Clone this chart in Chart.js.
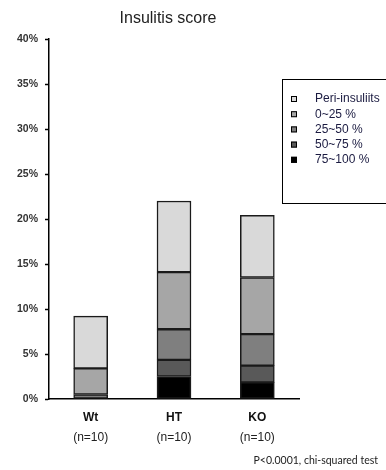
<!DOCTYPE html>
<html>
<head>
<meta charset="utf-8">
<script src="https://cdn.jsdelivr.net/npm/chart.js@4.4.0/dist/chart.umd.min.js"></script>
<style>
  html, body { margin: 0; padding: 0; background: #fff; }
  #wrap { width: 386px; height: 470px; position: relative; }
</style>
</head>
<body>
<div id="wrap"><canvas id="insulitisChart" width="386" height="470"></canvas></div>
<script>
// ---- data ----
const groups = ['Wt', 'HT', 'KO'];
const groupN = ['(n=10)', '(n=10)', '(n=10)'];
const scoreLabels = ['75~100 %', '50~75 %', '25~50 %', '0~25 %', 'Peri-insuliits'];
const scoreColors = ['#000000', '#595959', '#7f7f7f', '#a6a6a6', '#d9d9d9'];
// percent of islets in each class, bottom segment first
const score75to100 = [0, 2.5, 1.85];
const score50to75 = [0, 1.85, 1.85];
const score25to50 = [0.5, 3.4, 3.5];
const score0to25 = [2.9, 6.35, 6.3];
const scorePeri = [5.8, 7.9, 6.9];
const yTicks = [0, 5, 10, 15, 20, 25, 30, 35, 40];
const footnote = 'P<0.0001, chi-squared test';

const seriesValues = [score75to100, score50to75, score25to50, score0to25, scorePeri];

// title, n labels, footnote and boxed legend
const extrasPlugin = {
    id: 'extras',
    afterDraw(chart) {
        const ctx = chart.ctx;
        const xs = chart.scales.x;
        ctx.save();
        ctx.fillStyle = '#222';
        ctx.font = '16px "Liberation Sans", Arial, sans-serif';
        ctx.textAlign = 'center';
        ctx.textBaseline = 'middle';
        ctx.fillText('Insulitis score', 168, 19);

        ctx.font = '12px "Liberation Sans", Arial, sans-serif';
        groupN.forEach((n, i) => {
            ctx.fillText(n, xs.getPixelForValue(i), 438);
        });

        ctx.font = '10.5px Lato, "Open Sans", sans-serif';
        ctx.textAlign = 'right';
        ctx.fillText(footnote, 378, 461);

        // legend box
        ctx.strokeStyle = '#000';
        ctx.lineWidth = 1;
        ctx.strokeRect(282.5, 79.5, 120, 124);
        ctx.textAlign = 'left';
        ctx.font = '12px "Liberation Sans", Arial, sans-serif';
        const ds = chart.data.datasets.slice().reverse();
        ds.forEach((d, i) => {
            const y = 99 + i * 15.2;
            ctx.fillStyle = d.backgroundColor;
            ctx.fillRect(291, y - 3, 6, 6);
            ctx.strokeRect(291.5, y - 2.5, 5, 5);
            ctx.fillStyle = '#1a1a40';
            ctx.fillText(d.label, 315, y);
        });
        ctx.restore();
    }
};

const ctx = document.getElementById('insulitisChart').getContext('2d');
new Chart(ctx, {
    type: 'bar',
    data: {
        labels: groups,
        datasets: seriesValues.map((vals, i) => ({
            label: scoreLabels[i],
            data: vals,
            backgroundColor: scoreColors[i],
            borderColor: '#1a1a1a',
            borderWidth: 1.5,
            borderSkipped: false,
            barThickness: 34
        }))
    },
    options: {
        responsive: false,
        animation: false,
        layout: { padding: { top: 39, right: 87, bottom: 0, left: 0 } },
        plugins: {
            legend: { display: false },
            tooltip: { enabled: false }
        },
        scales: {
            x: {
                stacked: true,
                grid: { display: false },
                border: { display: true, color: '#000', width: 1.5 },
                ticks: {
                    color: '#111',
                    font: { family: '"Liberation Sans", Arial, sans-serif', size: 12, weight: 'bold' },
                    padding: 3
                },
                afterFit: s => { s.height = 71; }
            },
            y: {
                stacked: true,
                min: 0,
                max: 40,
                afterBuildTicks: s => { s.ticks = yTicks.map(v => ({ value: v })); },
                grid: { display: true, drawOnChartArea: false, drawTicks: true, tickLength: 4, color: '#000', tickWidth: 1.5 },
                border: { display: true, color: '#000', width: 1.5 },
                ticks: {
                    color: '#333',
                    font: { family: '"Liberation Sans", Arial, sans-serif', size: 10.5, weight: 'bold' },
                    padding: 7,
                    callback: v => v + '%'
                },
                afterFit: s => { s.width = 49; }
            }
        }
    },
    plugins: [extrasPlugin]
});
</script>
</body>
</html>
